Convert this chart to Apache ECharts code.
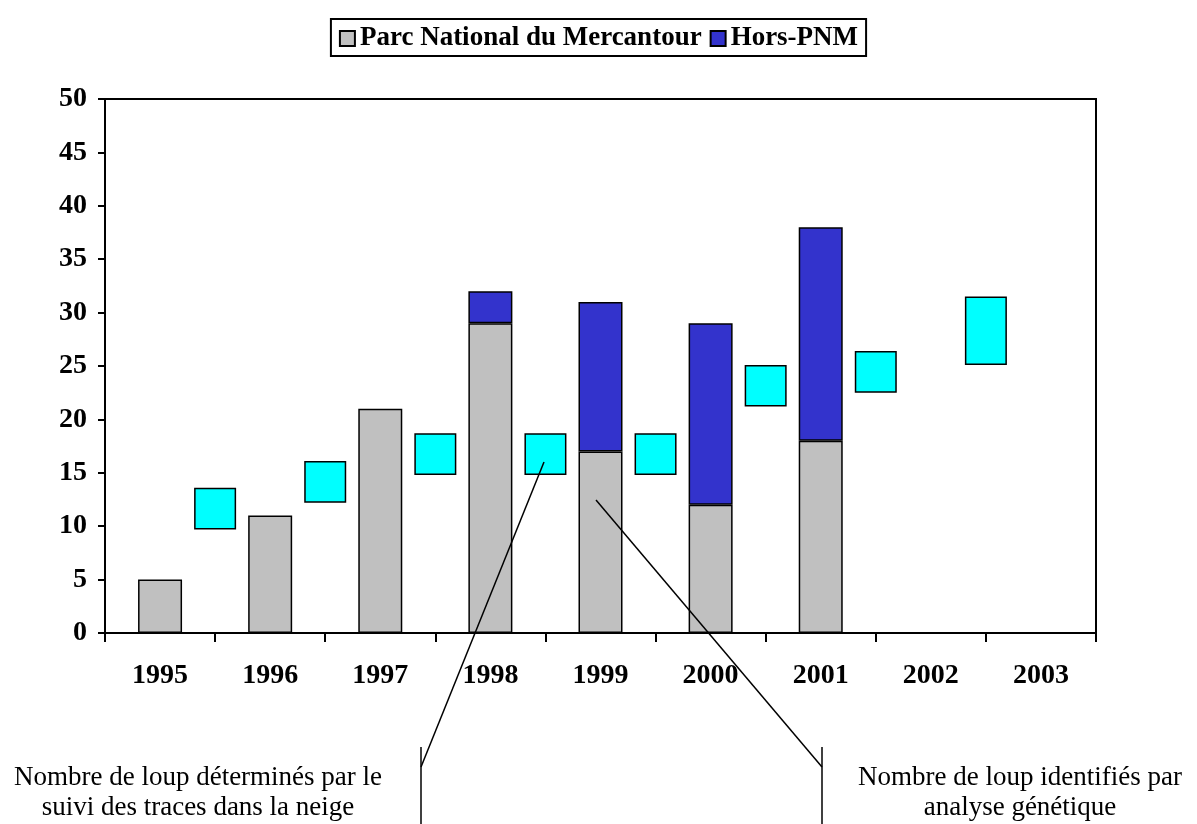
<!DOCTYPE html>
<html>
<head>
<meta charset="utf-8">
<script src="https://cdn.jsdelivr.net/npm/echarts@6/dist/echarts.min.js"></script>
<style>
  html, body { margin: 0; padding: 0; background: #fff; }
  #container { width: 1197px; height: 824px; }
</style>
</head>
<body>
<div id="container"></div>
<script>
// wolves counted by tracking in the snow (stacked bars)
var years = ['1995', '1996', '1997', '1998', '1999', '2000', '2001', '2002', '2003'];
var pnm = [5, 11, 21, 29, 17, 12, 18, null, null];
var horsPnm = [null, null, null, 3, 14, 17, 20, null, null];
// genetic identification: min / max range, drawn between two years
var genetLow = [9.7, 12.2, 14.8, 14.8, 14.8, 21.2, 22.5, 25.1];
var genetHigh = [13.6, 16.1, 18.7, 18.7, 18.7, 25.1, 26.4, 31.5];

var serif = 'Liberation Serif, Times New Roman, serif';

// second hidden axis: one slot per year boundary
var boundaries = [];
for (var i = 0; i <= years.length; i++) boundaries.push('b' + i);
var baseData = ['-'], spanData = ['-'];
for (var i = 0; i < genetLow.length; i++) {
  baseData.push(genetLow[i]);
  spanData.push(+(genetHigh[i] - genetLow[i]).toFixed(2));
}
baseData.push('-'); spanData.push('-');

function dash(arr) {
  return arr.map(function (v) { return v == null ? '-' : v; });
}

var option = {
  animation: false,
  backgroundColor: '#fff',
  grid: {
    left: 105, right: 101, top: 99, bottom: 191,
    show: true, borderColor: '#000', borderWidth: 2, backgroundColor: 'transparent'
  },
  legend: {
    top: 19,
    left: 'center',
    data: ['Parc National du Mercantour', 'Hors-PNM'],
    icon: 'rect',
    itemWidth: 15,
    itemHeight: 15,
    itemGap: 8,
    padding: [6, 8, 4, 8],
    borderColor: '#000',
    borderWidth: 2,
    textStyle: { fontFamily: serif, fontWeight: 'bold', fontSize: 27, color: '#000', padding: [0, 0, 0, 0] }
  },
  xAxis: [
    {
      type: 'category',
      data: years,
      axisLine: { lineStyle: { color: '#000', width: 2 } },
      axisTick: { show: true, interval: 0, length: 9, lineStyle: { color: '#000', width: 2 } },
      axisLabel: { interval: 0, margin: 29, fontFamily: serif, fontWeight: 'bold', fontSize: 28, color: '#000' }
    },
    {
      type: 'category',
      data: boundaries,
      boundaryGap: false,
      show: false
    }
  ],
  yAxis: {
    type: 'value',
    min: 0, max: 50, interval: 5,
    axisLine: { show: true, lineStyle: { color: '#000', width: 2 } },
    axisTick: { show: true, length: 7, lineStyle: { color: '#000', width: 2 } },
    splitLine: { show: false },
    axisLabel: { margin: 18, fontFamily: serif, fontWeight: 'bold', fontSize: 28, color: '#000' }
  },
  series: [
    {
      name: 'Parc National du Mercantour', type: 'bar', stack: 'loups', xAxisIndex: 0,
      barWidth: 44, data: dash(pnm),
      itemStyle: { color: '#C0C0C0', borderColor: '#000', borderWidth: 1.5 }
    },
    {
      name: 'Hors-PNM', type: 'bar', stack: 'loups', xAxisIndex: 0,
      barWidth: 44, data: dash(horsPnm),
      itemStyle: { color: '#3333CC', borderColor: '#000', borderWidth: 1.5 }
    },
    {
      name: 'base', type: 'bar', stack: 'genet', xAxisIndex: 1,
      barWidth: 42, data: baseData, silent: true,
      itemStyle: { color: 'transparent', borderWidth: 0 }
    },
    {
      name: 'genetique', type: 'bar', stack: 'genet', xAxisIndex: 1,
      barWidth: 42, data: spanData,
      itemStyle: { color: '#00FFFF', borderColor: '#000', borderWidth: 1.5 }
    }
  ],
  graphic: [
    // left note and its pointer
    { type: 'line', shape: { x1: 421, y1: 747, x2: 421, y2: 824 }, style: { stroke: '#000', lineWidth: 1.5 } },
    { type: 'line', shape: { x1: 421, y1: 767, x2: 544, y2: 462 }, style: { stroke: '#000', lineWidth: 1.5 }, z: 10 },
    { type: 'text', x: 198, y: 763, style: { text: 'Nombre de loup déterminés par le\nsuivi des traces dans la neige', textAlign: 'center', font: '27px ' + serif, lineHeight: 30, fill: '#000' } },
    // right note and its pointer
    { type: 'line', shape: { x1: 822, y1: 747, x2: 822, y2: 824 }, style: { stroke: '#000', lineWidth: 1.5 } },
    { type: 'line', shape: { x1: 822, y1: 767, x2: 596, y2: 500 }, style: { stroke: '#000', lineWidth: 1.5 }, z: 10 },
    { type: 'text', x: 1020, y: 763, style: { text: 'Nombre de loup identifiés par\nanalyse génétique', textAlign: 'center', font: '27px ' + serif, lineHeight: 30, fill: '#000' } }
  ]
};

var myChart = echarts.init(document.getElementById('container'));
myChart.setOption(option);
</script>
</body>
</html>
